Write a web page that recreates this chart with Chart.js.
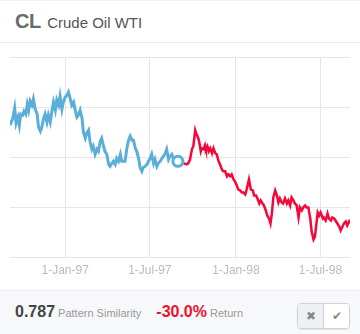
<!DOCTYPE html>
<html lang="en">
<head>
    <meta charset="UTF-8">
    <title>CL Crude Oil WTI</title>
    <script src="https://cdn.jsdelivr.net/npm/chart.js"></script>
    <style>
        body {
            margin: 0;
            width: 360px;
            height: 334px;
            overflow: hidden;
            background: #fff;
            font-family: "Liberation Sans", Arial, sans-serif;
        }
        .head {
            height: 43px;
            border-bottom: 1px solid #e9ebee;
            border-top: 1px solid #eef0f2;
            box-sizing: border-box;
            padding: 9px 0 0 15px;
            color: #555;
        }
        .head b { font-size: 20px; color: #6a6a6a; letter-spacing: -0.5px; }
        .head span { font-size: 15px; margin-left: 2px; }
        #wrap { position: relative; height: 247px; }
        .foot {
            height: 44px;
            background: #f7f8fa;
            border-top: 1px solid #eceef1;
            box-sizing: border-box;
            position: relative;
            padding: 12px 0 0 15px;
            font-size: 11px;
            color: #999;
        }
        .foot .num { font-size: 16px; font-weight: bold; color: #444; }
        .foot .ret { font-size: 16px; font-weight: bold; color: #f0102e; margin-left: 12px; }
        .btns {
            position: absolute;
            right: 10px;
            top: 12px;
            display: flex;
            border: 1px solid #cfd3d8;
            border-radius: 4px;
            overflow: hidden;
            box-shadow: 0 1px 1px rgba(0,0,0,0.08);
        }
        .btns div {
            width: 25px;
            height: 24px;
            line-height: 24px;
            text-align: center;
            font-size: 12px;
            color: #888;
            background: #fff;
        }
        .btns div:first-child { background: #eef1f4; border-right: 1px solid #cfd3d8; }
    </style>
</head>
<body>
    <div class="head"><b>CL</b> <span>Crude Oil WTI</span></div>
    <div id="wrap"><canvas id="chart"></canvas></div>
    <div class="foot">
        <span class="num">0.787</span> Pattern Similarity
        <span class="ret">-30.0%</span> Return
        <div class="btns"><div>✖</div><div>✔</div></div>
    </div>

    <script>
        // x values are days counted from 1-Jan-97, y values are price in $
        const tickDays = [0, 181, 365, 546];
        const tickLabels = ['1-Jan-97', '1-Jul-97', '1-Jan-98', '1-Jul-98'];

        const blueDays = [-118, -112, -108, -105, -101, -98, -95, -91, -88, -84, -81, -78, -75, -71, -68, -64,
            -60, -57, -53, -50, -46, -43, -39, -36, -32, -28, -25, -21, -18, -14, -11, -7, -4, 0, 4, 7, 11, 14,
            18, 21, 25, 28, 32, 36, 39, 43, 46, 50, 53, 57, 60, 64, 68, 71, 75, 78, 82, 85, 89, 93, 96, 100, 103,
            107, 110, 114, 118, 121, 125, 128, 132, 135, 139, 143, 146, 150, 153, 157, 160, 164, 167, 171, 175,
            178, 182, 185, 189, 192, 196, 199, 203, 207, 210, 214, 217, 221, 224, 228, 231, 241];
        const bluePrice = [23.2, 23.9, 24.9, 23.4, 24.0, 23.2, 24.3, 24.2, 24.6, 24.3, 25.3, 24.7, 25.6, 25.2, 25.8, 24.8,
            24.3, 23.0, 22.6, 23.0, 23.9, 24.3, 23.5, 24.2, 23.5, 24.7, 25.5, 24.7, 25.7, 25.2, 26.1, 24.8, 25.5, 26.0, 26.2, 26.5, 25.8, 25.2,
            25.5, 24.8, 24.0, 24.2, 24.7, 23.9, 22.5, 21.9, 22.4, 22.7, 21.6, 20.8, 21.1, 20.3, 20.8, 20.6, 21.6, 21.9, 21.1, 20.6, 20.3, 19.3, 19.1, 19.4, 19.6,
            19.3, 19.9, 19.6, 20.3, 19.6, 19.6, 19.6, 20.9, 21.6, 22.1, 21.7, 21.7, 20.9, 20.6, 19.9, 19.0, 18.6, 19.0, 19.1, 19.3,
            19.6, 19.9, 20.3, 19.4, 19.8, 19.1, 19.4, 19.6, 19.9, 20.1, 20.4, 20.8, 19.8, 20.1, 20.3, 19.9, 19.6];

        const redDays = [241, 260, 263, 267, 271, 274, 278, 280, 283, 286, 290, 292, 296, 299, 301, 304, 307, 310, 314,
            317, 321, 324, 328, 331, 335, 338, 342, 346, 349, 353, 356, 360, 363, 367, 370, 374, 378, 381, 385, 388,
            393, 397, 401, 404, 408, 411, 415, 418, 422, 425, 429, 432, 436, 439, 442, 445, 449, 452, 456, 459, 463,
            466, 470, 474, 477, 481, 484, 488, 491, 495, 499, 502, 506, 509, 513, 516, 520, 524, 527, 531, 534, 538,
            540, 543, 546, 551, 553, 557, 561, 564, 568, 571, 575, 578, 582, 586, 589, 593, 596, 600, 603, 607, 609];
        const redPrice = [19.6, 19.3, 19.4, 19.8, 20.8, 21.1, 22.7, 22.4, 22.1, 21.7, 20.6, 20.9, 20.8, 21.2, 20.8, 21.1, 20.6, 20.9, 20.4,
            20.9, 20.4, 20.3, 19.6, 19.3, 18.8, 18.6, 18.6, 18.1, 18.3, 18.1, 18.3, 17.8, 17.6, 17.2, 16.8, 16.7, 16.5, 16.5, 16.3, 16.8,
            17.8, 16.8, 16.7, 16.2, 16.2, 15.9, 15.4, 15.7, 15.4, 15.2, 14.7, 14.2, 13.9, 13.4, 14.4, 16.0, 16.7, 16.3, 15.5, 15.9, 15.5,
            15.4, 15.9, 15.4, 15.7, 15.2, 16.0, 15.7, 15.4, 15.2, 14.0, 15.0, 14.7, 15.0, 15.2, 15.0, 15.0, 13.9, 12.6, 11.8, 12.1, 13.7,
            14.5, 14.2, 14.5, 13.9, 14.0, 13.7, 14.4, 13.9, 13.7, 14.0, 13.9, 13.7, 13.4, 13.1, 12.7, 13.1, 13.4, 13.6, 13.2, 13.6, 13.4];

        const blueColor = '#5aafd9';
        const redColor = '#f5073a';

        const toPoints = (xs, ys) => xs.map((x, i) => ({ x: x, y: ys[i] }));
        const lastBlue = { x: blueDays[blueDays.length - 1], y: bluePrice[bluePrice.length - 1] };

        new Chart(document.getElementById('chart'), {
            type: 'line',
            data: {
                datasets: [
                    {
                        data: [lastBlue],
                        borderColor: blueColor,
                        backgroundColor: '#fff',
                        pointRadius: 5,
                        pointBorderWidth: 3,
                        showLine: false,
                        order: 0
                    },
                    {
                        data: toPoints(redDays, redPrice),
                        borderColor: redColor,
                        borderWidth: 2.5,
                        pointRadius: 0,
                        order: 1
                    },
                    {
                        data: toPoints(blueDays, bluePrice),
                        borderColor: blueColor,
                        borderWidth: 3,
                        pointRadius: 0,
                        order: 2
                    }
                ]
            },
            options: {
                responsive: true,
                maintainAspectRatio: false,
                animation: false,
                layout: { padding: { left: 10, right: 10, top: 14, bottom: 6 } },
                plugins: { legend: { display: false }, tooltip: { enabled: false } },
                elements: { line: { tension: 0 } },
                scales: {
                    x: {
                        type: 'linear',
                        min: -118,
                        max: 609,
                        afterBuildTicks: axis => { axis.ticks = tickDays.map(v => ({ value: v })); },
                        ticks: {
                            autoSkip: false,
                            maxRotation: 0,
                            padding: 6,
                            color: '#b4bcc7',
                            font: { family: 'Liberation Sans', size: 12 },
                            callback: v => tickLabels[tickDays.indexOf(v)]
                        },
                        grid: { color: '#e6e6e6', drawTicks: false },
                        border: { display: false }
                    },
                    y: {
                        min: 10,
                        max: 30,
                        ticks: { display: false, stepSize: 5 },
                        grid: { color: '#e6e6e6', drawTicks: false },
                        border: { display: false }
                    }
                }
            }
        });
    </script>
</body>
</html>
